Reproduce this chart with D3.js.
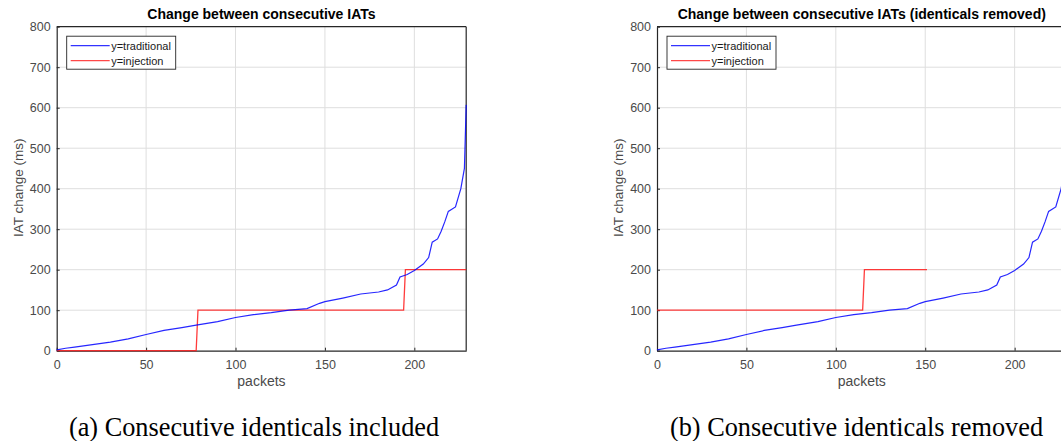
<!DOCTYPE html>
<html>
<head>
<meta charset="utf-8">
<script src="https://cdn.jsdelivr.net/npm/d3@7"></script>
<style>
  body { margin: 0; background: #fff; }
  svg { display: block; }
</style>
</head>
<body>
<svg id="fig"></svg>
<script>
// traditional IAT change, sorted (same curve in both panels)
const packets     = [0, 5, 10, 20, 30, 40, 50, 60, 70, 78, 90, 100, 110, 120, 130, 140, 147, 150, 160, 170, 180, 185, 190, 192, 196, 200, 205, 208, 210, 213, 215, 217, 219, 223, 226, 228, 229];
const traditional = [2, 6, 9, 15, 21, 29, 40, 50, 57, 63, 72, 82, 89, 94, 100, 104, 117, 121, 130, 140, 145, 150, 162, 182, 188, 198, 214, 230, 268, 276, 295, 318, 344, 355, 400, 450, 607];

// injection step values, panel (a) and panel (b)
const injPacketsA = [0, 78, 79, 194, 195, 229];
const injValuesA  = [0, 0, 100, 100, 200, 200];
const injPacketsB = [0, 115, 116, 151];
const injValuesB  = [100, 100, 200, 200];

const xTicks = [0, 50, 100, 150, 200];
const yTicks = [0, 100, 200, 300, 400, 500, 600, 700, 800];
const legendLabels = ["y=traditional", "y=injection"];

const W = 1061, H = 441;
const svg = d3.select("#fig").attr("width", W).attr("height", H);
svg.append("rect").attr("width", W).attr("height", H).attr("fill", "#fff");

const sans = "Liberation Sans, Arial, sans-serif";

function drawPanel(cfg) {
  let left = cfg.left, top = 26.7, width = 409.5, height = 324;

  let xScale = d3.scaleLinear().domain([0, 229]).range([0, width]);
  let yScale = d3.scaleLinear().domain([0, 800]).range([height, 0]);

  let g = svg.append("g").attr("transform", `translate(${left}, ${top})`);

  // grid
  g.append("g").selectAll("line")
    .data(xTicks.slice(1))
    .join("line")
    .attr("x1", d => xScale(d)).attr("x2", d => xScale(d))
    .attr("y1", 0).attr("y2", height)
    .attr("stroke", "#dedede").attr("stroke-width", 1);
  g.append("g").selectAll("line")
    .data(yTicks.slice(1, -1))
    .join("line")
    .attr("y1", d => yScale(d)).attr("y2", d => yScale(d))
    .attr("x1", 0).attr("x2", width)
    .attr("stroke", "#dedede").attr("stroke-width", 1);

  let xAxis = d3.axisBottom(xScale).tickValues(xTicks).tickSizeInner(-3).tickSizeOuter(0).tickPadding(9);
  let yAxis = d3.axisLeft(yScale).tickValues(yTicks).tickSizeInner(-3).tickSizeOuter(0).tickPadding(6);

  let xg = g.append("g").attr("transform", `translate(0, ${height})`).call(xAxis);
  let yg = g.append("g").call(yAxis);
  [xg, yg].forEach(a => {
    a.select(".domain").attr("stroke", "#262626").attr("stroke-width", 1.2);
    a.selectAll(".tick line").attr("stroke", "#262626");
    a.selectAll("text")
      .attr("fill", "#4a4a4a")
      .style("font-family", sans)
      .style("font-size", "12.5px");
  });

  // box top / right
  g.append("line").attr("x1", 0).attr("x2", width).attr("y1", 0).attr("y2", 0)
    .attr("stroke", "#262626").attr("stroke-width", 1.2);
  g.append("line").attr("x1", width).attr("x2", width).attr("y1", 0).attr("y2", height)
    .attr("stroke", "#262626").attr("stroke-width", 1.2);

  let line = d3.line()
    .x(d => xScale(d[0]))
    .y(d => yScale(d[1]));

  g.append("path")
    .datum(d3.zip(cfg.injX, cfg.injY))
    .attr("fill", "none")
    .attr("stroke", "#ff1a1a")
    .attr("stroke-opacity", 0.85)
    .attr("stroke-width", 1.3)
    .attr("d", line);

  g.append("path")
    .datum(d3.zip(packets, traditional))
    .attr("fill", "none")
    .attr("stroke", "#0000ff")
    .attr("stroke-opacity", 0.85)
    .attr("stroke-width", 1.2)
    .attr("d", line);

  // legend
  let lg = g.append("g").attr("transform", "translate(10, 9.5)");
  lg.append("rect")
    .attr("width", 109).attr("height", 33)
    .attr("fill", "#fff").attr("stroke", "#262626").attr("stroke-width", 0.9);
  lg.selectAll("line.leg")
    .data(legendLabels)
    .join("line")
    .attr("class", "leg")
    .attr("x1", 4).attr("x2", 43)
    .attr("y1", (d, i) => 9.5 + i * 15).attr("y2", (d, i) => 9.5 + i * 15)
    .attr("stroke", (d, i) => i === 0 ? "#0000ff" : "#ff1a1a")
    .attr("stroke-opacity", 0.8)
    .attr("stroke-width", 1.2);
  lg.selectAll("text.leg")
    .data(legendLabels)
    .join("text")
    .attr("class", "leg")
    .attr("x", 44.5)
    .attr("y", (d, i) => 13.5 + i * 15)
    .style("font-family", sans)
    .style("font-size", "11px")
    .attr("fill", "#1a1a1a")
    .text(d => d);

  // title
  g.append("text")
    .attr("x", width / 2).attr("y", -7.5)
    .attr("text-anchor", "middle")
    .style("font-family", sans)
    .style("font-size", "14px")
    .style("font-weight", "bold")
    .text(cfg.title);

  g.append("text")
    .attr("x", width / 2).attr("y", height + 35.5)
    .attr("text-anchor", "middle")
    .style("font-family", sans)
    .style("font-size", "14px")
    .attr("fill", "#4a4a4a")
    .text("packets");

  g.append("text")
    .attr("transform", `translate(-34, ${height / 2 - 1}) rotate(-90)`)
    .attr("text-anchor", "middle")
    .style("font-family", sans)
    .style("font-size", "13.5px")
    .attr("fill", "#4a4a4a")
    .text("IAT change (ms)");

  // caption
  svg.append("text")
    .attr("x", cfg.captionX).attr("y", 435.5)
    .attr("text-anchor", "middle")
    .style("font-family", "Liberation Serif, Times New Roman, serif")
    .style("font-size", "26.3px")
    .attr("fill", "#000")
    .text(cfg.caption);
}

drawPanel({
  left: 56.7,
  title: "Change between consecutive IATs",
  injX: injPacketsA, injY: injValuesA,
  captionX: 254,
  caption: "(a) Consecutive identicals included"
});

drawPanel({
  left: 657,
  title: "Change between consecutive IATs (identicals removed)",
  injX: injPacketsB, injY: injValuesB,
  captionX: 856.5,
  caption: "(b) Consecutive identicals removed"
});
</script>
</body>
</html>
